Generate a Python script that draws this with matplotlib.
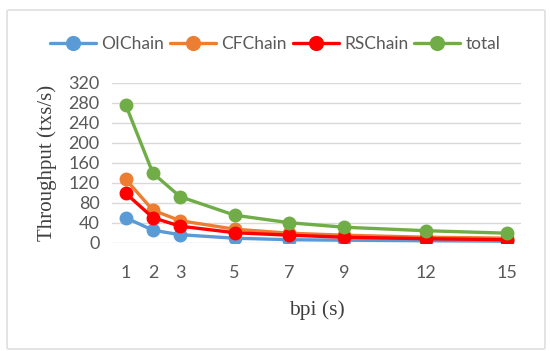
import matplotlib
matplotlib.use("Agg")
import matplotlib.pyplot as plt
from matplotlib.patches import FancyBboxPatch

bpi = [1, 2, 3, 5, 7, 9, 12, 15]
oichain = [50, 25, 16, 9, 6, 5, 4, 3]
cfchain = [127, 65, 44, 27, 19, 15, 11, 9]
rschain = [99, 50, 33, 20, 15, 11, 8, 6]
total = [276, 139, 92, 55, 40, 31, 24, 19]
series_names = ["OIChain", "CFChain", "RSChain", "total"]
colors = ["#5B9BD5", "#ED7D31", "#FF0000", "#70AD47"]
yticks = [0, 40, 80, 120, 160, 200, 240, 280, 320]

W, H = 550, 351
fig = plt.figure(figsize=(5.5, 3.51), dpi=100)
fig.patches.append(FancyBboxPatch((7/W, 1-349/H), (545-7)/W, (349-10)/H,
                                  boxstyle="round,pad=0,rounding_size=0.004",
                                  transform=fig.transFigure, facecolor="white",
                                  edgecolor="#D9D9D9", linewidth=1.0, zorder=-10))
ax = fig.add_axes([112/W, 1-242.7/H, (521-112)/W, (242.7-82.7)/H])
ax.set_facecolor("none")
ax.set_zorder(5)

for name, vals, c in zip(series_names, [oichain, cfchain, rschain, total], colors):
    ax.plot(bpi, vals, color=c, lw=2.4, marker="o", ms=9, label=name,
            solid_capstyle="round", zorder=3)

ax.set_xlim(0.5, 15.5)
ax.set_ylim(0, 320)
ax.set_xticks(bpi)
ax.set_yticks(yticks)
ax.grid(axis="y", color="#D9D9D9", lw=1)
ax.set_axisbelow(True)
for s in ax.spines.values():
    s.set_visible(False)
ax.tick_params(length=0, labelsize=13, labelcolor="#595959")
ax.tick_params(axis="x", pad=16)
ax.tick_params(axis="y", pad=9)
for lab in ax.get_xticklabels() + ax.get_yticklabels():
    lab.set_fontfamily("Lato")

ax.set_ylabel("Throughput (txs/s)", family="Liberation Serif", fontsize=15,
              color="#404040", labelpad=8)
ax.set_xlabel("bpi (s)", family="Liberation Serif", fontsize=15.5,
              color="#404040", labelpad=14)

leg = ax.legend(loc="center", bbox_to_anchor=(275/W, 1-44/H),
                bbox_transform=fig.transFigure, ncol=4, frameon=False,
                prop={"family": "Lato", "size": 12.5}, handlelength=2.65,
                columnspacing=0.35, handletextpad=0.3, markerscale=1.1)
for t in leg.get_texts():
    t.set_color("#595959")

fig.savefig("out.png", dpi=100)
